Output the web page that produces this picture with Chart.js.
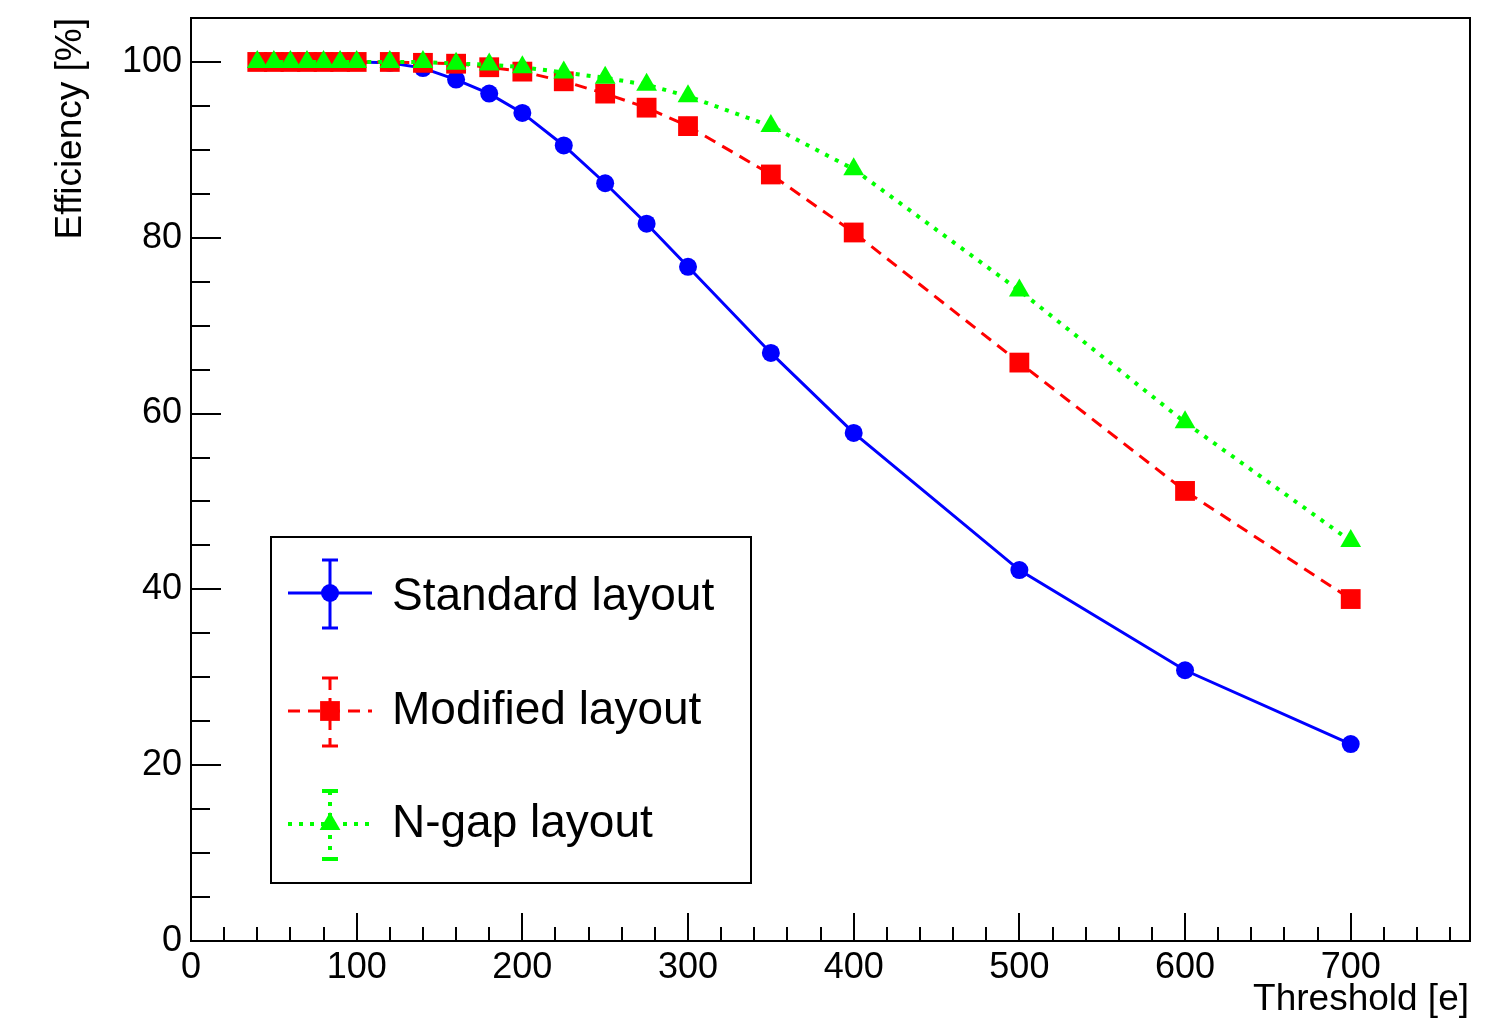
<!DOCTYPE html>
<html>
<head>
<meta charset="utf-8">
<script src="https://cdn.jsdelivr.net/npm/chart.js@4"></script>
<style>
html,body{margin:0;padding:0;background:#fff;}
canvas{display:block;}
</style>
</head>
<body>
<canvas id="c" width="1490" height="1021"></canvas>
<script>
// ---- data ----
const thresholds   = [40,50,60,70,80,90,100,120,140,160,180,200,225,250,275,300,350,400,500,600,700];
const standardEff  = [100,100,100,100,100,100,100,99.9,99.3,98.0,96.4,94.2,90.5,86.2,81.6,76.7,66.9,57.8,42.2,30.8,22.4];
const modifiedEff  = [100,100,100,100,100,100,100,100,99.9,99.8,99.4,98.9,97.8,96.4,94.8,92.7,87.2,80.6,65.8,51.2,38.9];
const ngapEff      = [100,100,100,100,100,100,100,100,100,99.8,99.7,99.4,98.8,98.2,97.4,96.1,92.7,87.8,74.0,59.0,45.5];
const seriesNames  = ['Standard layout','Modified layout','N-gap layout'];
const xTickValues  = [0,100,200,300,400,500,600,700];
const yTickValues  = [0,20,40,60,80,100];
const xTitle = 'Threshold [e]';
const yTitle = 'Efficiency [%]';

const FONT = "'Liberation Sans', Arial, Helvetica, sans-serif";
const BLUE = '#0000ff', RED = '#ff0000', GREEN = '#00ff00';

function pts(ys){ return thresholds.map((x,i)=>({x:x,y:ys[i]})); }

const styles = [
  {color:BLUE, dash:[], width:3, point:'circle', radius:9},
  {color:RED, dash:[12,8], width:3, point:'rect', radius:14},
  {color:GREEN, dash:[4,7], width:4, point:'triangle', radius:12}
];
const seriesData = [standardEff, modifiedEff, ngapEff];

function drawMarker(ctx, type, x, y, r, color){
  ctx.save();
  ctx.fillStyle = color;
  ctx.setLineDash([]);
  ctx.beginPath();
  if(type==='circle'){ ctx.arc(x,y,r,0,Math.PI*2); }
  else if(type==='rect'){ const s=r*Math.SQRT1_2; ctx.rect(x-s,y-s,2*s,2*s); }
  else { ctx.moveTo(x,y-r); ctx.lineTo(x+r*0.866,y+r*0.5); ctx.lineTo(x-r*0.866,y+r*0.5); ctx.closePath(); }
  ctx.fill();
  ctx.restore();
}

const rootPlugin = {
  id:'rootStyle',
  afterDraw(chart){
    const ctx = chart.ctx, a = chart.chartArea;
    const xs = chart.scales.x, ys = chart.scales.y;
    ctx.save();
    ctx.strokeStyle = '#000';
    ctx.lineWidth = 2;
    ctx.setLineDash([]);
    ctx.strokeRect(a.left, a.top, a.right-a.left, a.bottom-a.top);
    ctx.beginPath();
    for(let v=0; v<=xs.max; v+=20){
      const px = Math.round(xs.getPixelForValue(v));
      const len = (v%100===0) ? 28 : 14;
      ctx.moveTo(px, a.bottom); ctx.lineTo(px, a.bottom-len);
    }
    for(let v=0; v<=ys.max; v+=5){
      const py = Math.round(ys.getPixelForValue(v));
      const len = (v%20===0) ? 30 : 19;
      ctx.moveTo(a.left, py); ctx.lineTo(a.left+len, py);
    }
    ctx.stroke();

    // axis titles
    ctx.fillStyle = '#000';
    ctx.font = '37px ' + FONT;
    ctx.textAlign = 'right';
    ctx.textBaseline = 'alphabetic';
    ctx.fillText(xTitle, a.right-1, 1010);
    ctx.save();
    ctx.translate(81, a.top);
    ctx.rotate(-Math.PI/2);
    ctx.textAlign = 'right';
    ctx.fillText(yTitle, 0, 0);
    ctx.restore();

    // legend
    ctx.lineWidth = 2;
    ctx.strokeRect(271, 537, 480, 346);
    const rowsY = [593, 711, 824];
    const baseY = [610, 724, 837];
    for(let i=0;i<3;i++){
      const st = styles[i], y = rowsY[i], mx = 330;
      ctx.strokeStyle = st.color;
      ctx.lineWidth = st.width;
      ctx.setLineDash(st.dash);
      ctx.beginPath();
      ctx.moveTo(288, y); ctx.lineTo(372, y);
      ctx.moveTo(mx, y-33); ctx.lineTo(mx, y+35);
      ctx.stroke();
      ctx.setLineDash([]);
      ctx.beginPath();
      ctx.moveTo(mx-8, y-33); ctx.lineTo(mx+8, y-33);
      ctx.moveTo(mx-8, y+35); ctx.lineTo(mx+8, y+35);
      ctx.stroke();
      drawMarker(ctx, st.point, mx, y, st.radius, st.color);
      ctx.fillStyle = '#000';
      ctx.font = '46px ' + FONT;
      ctx.textAlign = 'left';
      ctx.textBaseline = 'alphabetic';
      ctx.fillText(seriesNames[i], 392, baseY[i]);
    }
    ctx.restore();
  }
};

const datasets = seriesData.map((d,i)=>({
  label: seriesNames[i],
  data: pts(d),
  borderColor: styles[i].color,
  backgroundColor: styles[i].color,
  borderWidth: styles[i].width,
  borderDash: styles[i].dash,
  pointStyle: styles[i].point,
  pointRadius: styles[i].radius,
  pointBorderWidth: 0,
  pointBackgroundColor: styles[i].color,
  tension: 0,
  fill: false,
  order: 2-i,
  clip: false
}));

new Chart(document.getElementById('c'), {
  type:'line',
  data:{datasets:datasets},
  options:{
    responsive:false,
    animation:false,
    events:[],
    layout:{padding:{top:18,right:20,left:0,bottom:0}},
    plugins:{legend:{display:false},tooltip:{enabled:false},title:{display:false}},
    scales:{
      x:{
        type:'linear', min:0, max:772,
        afterBuildTicks(s){ s.ticks = xTickValues.map(v=>({value:v})); },
        afterFit(s){ s.height = 80; s.paddingLeft = 0; s.paddingRight = 0; },
        grid:{display:false, drawTicks:false},
        border:{display:false},
        ticks:{font:{family:FONT,size:36}, color:'#000', padding:5, maxRotation:0, autoSkip:false}
      },
      y:{
        type:'linear', min:0, max:105,
        afterBuildTicks(s){ s.ticks = yTickValues.map(v=>({value:v})); },
        afterFit(s){ s.width = 191; s.paddingTop = 0; s.paddingBottom = 0; },
        grid:{display:false, drawTicks:false},
        border:{display:false},
        ticks:{font:{family:FONT,size:36}, color:'#000', padding:9, autoSkip:false}
      }
    }
  },
  plugins:[rootPlugin]
});
</script>
</body>
</html>
